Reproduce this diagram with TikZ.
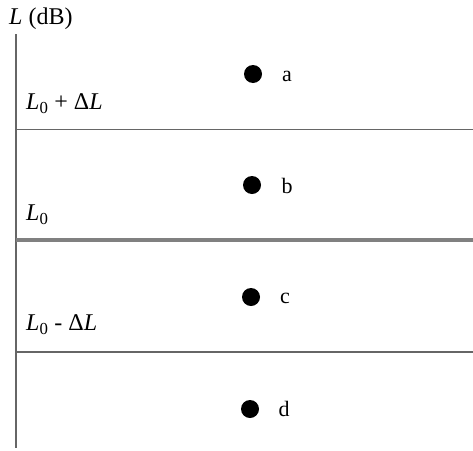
\documentclass[tikz,border=0pt]{standalone}
\usepackage{fontspec}
\setmainfont{Liberation Serif}
\begin{document}
\begin{tikzpicture}[x=1pt,y=-1pt,
  dotnode/.style={circle,fill=black,inner sep=0pt,minimum size=18pt},
  lett/.style={font=\fontsize{22}{26}\selectfont,inner sep=0pt},
  lvl/.style={font=\fontsize{24}{28}\selectfont,inner sep=0pt,anchor=west},
  gline/.style={draw=black!60,line width=1.5pt},
  thickline/.style={draw=black!50,line width=4pt}]
\useasboundingbox (0,0) rectangle (473,450);
% axis
\coordinate (ax0) at (16,34);
\coordinate (ax1) at (16,448);
\draw[gline] (ax0) -- (ax1);
\node[font=\fontsize{24}{28}\selectfont,inner sep=0pt,anchor=west] (ylab) at (9,19) {\textit{L} (dB)};
% level lines
\coordinate (l1a) at (16,129.5); \coordinate (l1b) at (473,129.5);
\coordinate (l2a) at (16,240); \coordinate (l2b) at (473,240);
\coordinate (l3a) at (16,352); \coordinate (l3b) at (473,352);
\draw[gline] (l1a) -- (l1b);
\draw[thickline] (l2a) -- (l2b);
\draw[gline] (l3a) -- (l3b);
% level labels
\node[lvl] (t1) at (26,104) {\textit{L}\textsubscript{0} + Δ\textit{L}};
\node[lvl] (t2) at (26,215) {\textit{L}\textsubscript{0}};
\node[lvl] (t3) at (26,325) {\textit{L}\textsubscript{0} - Δ\textit{L}};
% dots
\node[dotnode] (da) at (253,74) {};
\node[dotnode] (db) at (252,185) {};
\node[dotnode] (dc) at (251,297) {};
\node[dotnode] (dd) at (250,409) {};
\node[lett] (la) at (287,76) {a};
\node[lett] (lb) at (287,186) {b};
\node[lett] (lc) at (285,298) {c};
\node[lett] (ld) at (284,409) {d};
\end{tikzpicture}
\end{document}
